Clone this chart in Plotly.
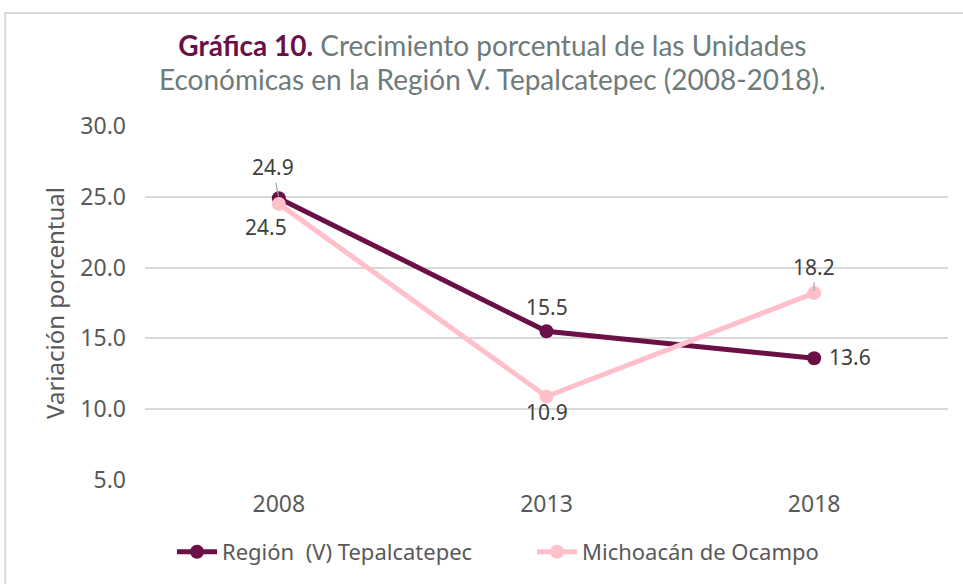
import plotly.graph_objects as go

years = ["2008", "2013", "2018"]
region_v = [24.9, 15.5, 13.6]
michoacan = [24.5, 10.9, 18.2]
series_names = ["Región  (V) Tepalcatepec", "Michoacán de Ocampo"]
y_ticks = [5.0, 10.0, 15.0, 20.0, 25.0, 30.0]
title_lines = ["<b><span style='color:#6b0f47'>Gráfica 10.</span></b> Crecimiento porcentual de las Unidades",
               "Económicas en la Región V. Tepalcatepec (2008-2018)."]

MAROON = "#6b0f47"
PINK = "#ffc0cb"
TXT = "#404040"
FONT = "Noto Sans"
TFONT = "Lato"

fig = go.Figure()
fig.add_trace(go.Scatter(x=years, y=region_v, name=series_names[0], mode="lines+markers",
                         line=dict(color=MAROON, width=5), marker=dict(size=14, color=MAROON)))
fig.add_trace(go.Scatter(x=years, y=michoacan, name=series_names[1], mode="lines+markers",
                         line=dict(color=PINK, width=5), marker=dict(size=14, color=PINK)))

def lab(i, y, ax=0, ay=0, arrow=False, xshift=0, yshift=0):
    fig.add_annotation(x=i, y=y, text=f"{y:.1f}", showarrow=arrow, ax=ax, ay=ay,
                       arrowhead=0, arrowcolor="#a6a6a6", arrowwidth=1.2, standoff=2,
                       xshift=xshift, yshift=yshift,
                       font=dict(family=FONT, size=21, color=TXT))

lab(0, region_v[0], ax=-6, ay=-31, arrow=True)
lab(0, michoacan[0], xshift=-13, yshift=-23)
lab(1, region_v[1], yshift=24)
lab(1, michoacan[1], yshift=-16)
lab(2, region_v[2], xshift=36, yshift=1)
lab(2, michoacan[2], ax=0, ay=-26, arrow=True)

# title (one text block, two lines)
title_text = "<br>".join(f"<span style='font-size:28px'>{t}</span>" for t in title_lines)
fig.add_annotation(xref="paper", yref="paper", x=(492 - 145) / 803, y=(480 - 62) / 354,
                   text=title_text, showarrow=False, xanchor="center", yanchor="middle",
                   font=dict(family=TFONT, size=26, color="#6e7b7b"))

fig.add_shape(type="rect", xref="paper", yref="paper", x0=-0.174, x1=1.2, y0=-0.6, y1=1.319,
              line=dict(color="#d9d9d9", width=2), fillcolor="rgba(0,0,0,0)", layer="below")

fig.update_layout(
    width=963, height=584,
    paper_bgcolor="white", plot_bgcolor="white",
    margin=dict(l=145, r=15, t=126, b=104),
    font=dict(family=FONT, color=TXT),
    xaxis=dict(type="category", range=[-0.5, 2.5], showgrid=False, showline=False, ticks="",
               tickfont=dict(family=FONT, size=23, color="#595959"), ticklabelstandoff=8),
    yaxis=dict(range=[5, 30], tickvals=y_ticks, tickformat=".1f", showgrid=True,
               gridcolor="#d9d9d9", gridwidth=1.5, zeroline=False, showline=False, ticks="",
               tickfont=dict(family=FONT, size=23, color="#595959"), ticklabelstandoff=18,
               title=dict(text="Variación porcentual", standoff=8,
                          font=dict(family=FONT, size=24, color="#595959"))),
    legend=dict(orientation="h", xref="container", x=172 / 963, xanchor="left",
                yref="container", y=1 - 552 / 584, yanchor="middle",
                font=dict(family=FONT, size=22, color="#595959"), itemwidth=40,
                entrywidth=305, entrywidthmode="pixels"),
    showlegend=True,
)

fig.write_html("out.html", post_script="document.body.style.margin='0';",
               config={"displayModeBar": False})
